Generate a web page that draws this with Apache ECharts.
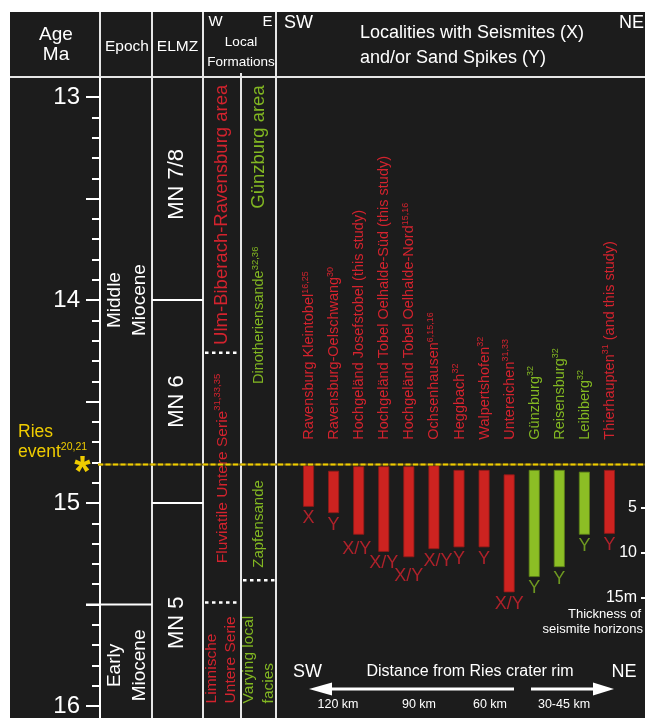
<!DOCTYPE html>
<html>
<head>
<meta charset="utf-8">
<title>Seismites and sand spikes after the Ries event</title>
<script src="https://cdn.jsdelivr.net/npm/echarts@6.0.0/dist/echarts.min.js"></script>
<style>
  html, body { margin: 0; padding: 0; background: #ffffff; }
  #chart { width: 645px; height: 718px; }
</style>
</head>
<body>
<div id="chart"></div>
<script>
// ---------------- data ----------------
// Age scale, Ma
const ageMajor = [13, 14, 15, 16];
const ageHalf = [13.5, 14.5, 15.5];

// Epochs (boundary ages in Ma, top to bottom)
const epochNames = ['Middle\nMiocene', 'Early\nMiocene'];
const epochBase = [15.5];

// European Land Mammal Zones
const elmzNames = ['MN 7/8', 'MN 6', 'MN 5'];
const elmzBase = [14.0, 15.0];

// Local formations, western (Ulm-Biberach-Ravensburg) column
const westUnits = ['Ulm-Biberach-Ravensburg area', 'Fluviatile Untere Serie', 'Limnische\nUntere Serie'];
const westRefs = ['', '31,33,35', ''];
const westBase = [14.26, 15.49];

// Local formations, eastern (Günzburg) column
const eastUnits = ['Günzburg area', 'Dinotheriensande', 'Zapfensande', 'Varying local\nfacies'];
const eastRefs = ['', '32,36', '', ''];
const eastBase = [15.38];

// Ries impact
const riesAge = 14.81;
const riesRefs = '20,21';

// Localities, SW to NE
const localities = [
  'Ravensburg Kleintobel', 'Ravensburg-Oelschwang', 'Hochgeländ Josefstobel (this study)',
  'Hochgeländ Tobel Oelhalde-Süd (this study)', 'Hochgeländ Tobel Oelhalde-Nord', 'Ochsenhausen',
  'Heggbach', 'Walpertshofen', 'Untereichen', 'Günzburg', 'Reisensburg', 'Leibiberg', 'Thierhaupten'
];
const localityRefs = ['16,25', '30', '', '', '15,16', '6,15,16', '32', '32', '31,33', '32', '32', '32', '31'];
const localityNotes = ['', '', '', '', '', '', '', '', '', '', '', '', ' (and this study)'];
const localityArea = ['UBR', 'UBR', 'UBR', 'UBR', 'UBR', 'UBR', 'UBR', 'UBR', 'UBR', 'GZ', 'GZ', 'GZ', 'UBR'];

// Seismite horizons: top and base below the Ries level (m), and feature type
const horizonTop  = [0.3, 0.9, 0.4, 0.4, 0.4, 0.3, 0.8, 0.8, 1.3, 0.8, 0.8, 1.0, 0.8];
const horizonBase = [4.9, 5.6, 8.0, 9.9, 10.5, 9.6, 9.4, 9.4, 14.4, 12.7, 11.6, 8.0, 7.9];
const horizonType = ['X', 'Y', 'X/Y', 'X/Y', 'X/Y', 'X/Y', 'Y', 'Y', 'X/Y', 'Y', 'Y', 'Y', 'Y'];
const thicknessTicks = [5, 10, 15];

// Distance from the Ries crater rim
const distanceLabels = ['120 km', '90 km', '60 km', '30-45 km'];

// ---------------- layout & style ----------------
const FONT = "'Liberation Sans', Arial, Helvetica, sans-serif";
const BG = '#1c1c1c';
const WHITE = '#ffffff';
const LINE = '#e6e6e6';
const RED_TXT = '#d3232e';
const RED_BAR = '#cd2320';
const RED_EDGE = '#8e1a18';
const GREEN_TXT = '#82b722';
const GREEN_BAR = '#8cbe25';
const GREEN_EDGE = '#5b7f17';
const YELLOW = '#efcc00';

const AGE_MIN = 12.906, AGE_MAX = 16.059;
// column edges (px)
const COL = { axis: 100, epoch: 152, elmz: 203, west: 241, east: 276, right: 645 };
// where the rotated column captions sit (Ma) and how they are anchored
const epochLabel = { at: [14.0, 15.8], x: 127, size: 19, lh: 25 };
const elmzLabel = { at: [13.43, 14.5, 15.59], x: 176.5, size: 22, lh: 24 };
const westLabel = { at: [13.58, 14.83, 15.987], x: 221.5, size: [18.5, 15.5, 15.5], lh: 19, anchor: ['center', 'center', 'left'] };
const eastLabel = { at: [13.246, 14.075, 15.103, 15.987], x: 258.5, size: [18.5, 14.5, 15, 15.5], lh: 20.5, anchor: ['center', 'center', 'center', 'left'] };
const labelNudge = [[0, 0], [0, 0], [-2, 3], [0, 0], [0, 7], [4, 0], [0, 0], [0, 0], [0, 0], [0, 0], [0, 0], [0, 0], [0, 0]];
const distanceX = [338, 419, 490, 564];

const areaColor = a => (a === 'GZ' ? GREEN_TXT : RED_TXT);

function textEl(x, y, text, opt) {
  return {
    type: 'text', x: x, y: y, rotation: opt.rotation || 0, silent: true, z: opt.z || 0,
    style: Object.assign({
      text: text, fill: opt.fill || WHITE,
      font: (opt.weight || 'normal') + ' ' + opt.size + 'px ' + FONT,
      fontSize: opt.size, fontFamily: FONT, fontWeight: opt.weight || 'normal',
      align: opt.align || 'center', verticalAlign: opt.valign || 'middle',
      textAlign: opt.align || 'center', textVerticalAlign: opt.valign || 'middle',
      lineHeight: opt.lh
    }, opt.rich ? { rich: opt.rich } : {})
  };
}

function richCaption(name, ref, color, size) {
  if (!ref) return { text: name, rich: null };
  return {
    text: '{m|' + name + '}{s|' + ref + '}',
    rich: {
      m: { fill: color, fontSize: size, fontFamily: FONT, verticalAlign: 'bottom', lineHeight: size + 2 },
      s: { fill: color, fontSize: 9.5, fontFamily: FONT, verticalAlign: 'top', lineHeight: size + 2 }
    }
  };
}

// One stratigraphic column: unit boundaries plus rotated captions
function columnSeries(cfg) {
  return {
    type: 'custom', name: cfg.name, xAxisIndex: 0, yAxisIndex: 0, silent: true, clip: false,
    data: cfg.names.map((n, i) => ({ name: n, value: [0, i < cfg.bases.length ? cfg.bases[i] : AGE_MAX] })),
    renderItem(params, api) {
      const i = params.dataIndex;
      const yOf = a => api.coord([0, a])[1];
      const kids = [];
      if (i < cfg.bases.length) {
        const y = yOf(cfg.bases[i]);
        kids.push({
          type: 'line', shape: { x1: cfg.x0, y1: y, x2: cfg.x1, y2: y },
          style: { stroke: WHITE, lineWidth: cfg.dashed ? 2.5 : 2, lineDash: cfg.dashed ? [3.5, 3.5] : null }
        });
      }
      const size = Array.isArray(cfg.label.size) ? cfg.label.size[i] : cfg.label.size;
      const anchor = cfg.label.anchor ? cfg.label.anchor[i] : 'center';
      const cap = richCaption(cfg.names[i], cfg.refs ? cfg.refs[i] : '', cfg.color, size);
      kids.push(textEl(cfg.label.x, yOf(cfg.label.at[i]), cap.text, {
        rotation: Math.PI / 2, size: size, fill: cfg.color, align: anchor, lh: cfg.label.lh, rich: cap.rich
      }));
      return { type: 'group', children: kids };
    }
  };
}

// Ries event: dashed level across the chart, asterisk and caption
const riesSeries = {
  type: 'custom', name: 'Ries event', xAxisIndex: 0, yAxisIndex: 0, silent: true, clip: false, z: 5,
  data: [[0, riesAge]],
  renderItem(params, api) {
    const y = api.coord([0, riesAge])[1];
    return {
      type: 'group',
      children: [
        { type: 'line', shape: { x1: 98, y1: y, x2: COL.right, y2: y }, style: { stroke: '#6e5f12', lineWidth: 2 } },
        { type: 'line', shape: { x1: 98, y1: y, x2: COL.right, y2: y }, style: { stroke: YELLOW, lineWidth: 2, lineDash: [5, 2.5] } },
        textEl(82.5, y + 9, '*', { size: 42, weight: 'bold', fill: YELLOW }),
        textEl(18, y - 32, 'Ries', { size: 17.5, fill: YELLOW, align: 'left' }),
        textEl(18, y - 13, '{m|event}{s|' + riesRefs + '}', {
          size: 17.5, fill: YELLOW, align: 'left',
          rich: {
            m: { fill: YELLOW, fontSize: 17.5, fontFamily: FONT, verticalAlign: 'bottom', lineHeight: 19 },
            s: { fill: YELLOW, fontSize: 10.5, fontFamily: FONT, verticalAlign: 'top', lineHeight: 19 }
          }
        })
      ]
    };
  }
};

// Minor age ticks every 0.1 Ma between the labelled ones
const ageMinorTicks = [];
for (let k = 130; k <= 160; k++) { if (k % 5 !== 0) ageMinorTicks.push(k / 10); }

const tickStyle = { color: WHITE, width: 2 };

const localityRich = {
  r: { color: RED_TXT, fontSize: 14.5, fontFamily: FONT, verticalAlign: 'bottom', lineHeight: 16 },
  rs: { color: RED_TXT, fontSize: 9, fontFamily: FONT, verticalAlign: 'top', lineHeight: 16 },
  g: { color: GREEN_TXT, fontSize: 14.5, fontFamily: FONT, verticalAlign: 'bottom', lineHeight: 16 },
  gs: { color: GREEN_TXT, fontSize: 9, fontFamily: FONT, verticalAlign: 'top', lineHeight: 16 }
};

const option = {
  backgroundColor: '#ffffff',
  animation: false,
  textStyle: { fontFamily: FONT },
  grid: [
    { left: COL.axis, right: 0, top: 78, bottom: 0, outerBoundsMode: 'none', containLabel: false },
    { left: 296, right: 23, top: 462.7, height: 135, outerBoundsMode: 'none', containLabel: false }
  ],
  xAxis: [
    { gridIndex: 0, type: 'value', min: 0, max: 1, show: false },
    {
      gridIndex: 1, type: 'category', data: localities, position: 'top',
      axisLine: { show: false }, axisTick: { show: false }, splitLine: { show: false },
      axisLabel: {
        interval: 0, rotate: 90, margin: 23,
        formatter: (v, i) => {
          const k = localityArea[i] === 'GZ' ? 'g' : 'r';
          return '{' + k + '|' + localities[i] + '}' +
            (localityRefs[i] ? '{' + k + 's|' + localityRefs[i] + '}' : '') +
            (localityNotes[i] ? '{' + k + '|' + localityNotes[i] + '}' : '');
        },
        rich: localityRich
      }
    }
  ],
  yAxis: [
    {
      gridIndex: 0, type: 'value', inverse: true, min: AGE_MIN, max: AGE_MAX, position: 'left',
      axisLine: { show: true, lineStyle: { color: WHITE, width: 2 } },
      axisTick: { show: true, length: 14, lineStyle: tickStyle, customValues: ageMajor.concat(ageHalf) },
      axisLabel: { show: true, customValues: ageMajor, margin: 20, color: WHITE, fontSize: 24, fontFamily: FONT },
      splitLine: { show: false }
    },
    {
      gridIndex: 0, type: 'value', inverse: true, min: AGE_MIN, max: AGE_MAX, position: 'left',
      axisLine: { show: false },
      axisTick: { show: true, length: 8, lineStyle: tickStyle, customValues: ageMinorTicks },
      axisLabel: { show: false }, splitLine: { show: false }
    },
    {
      gridIndex: 1, type: 'value', inverse: true, min: 0, max: 15, position: 'right', offset: 19,
      axisLine: { show: false },
      axisTick: { show: true, length: 4, inside: false, lineStyle: tickStyle, customValues: thicknessTicks },
      axisLabel: {
        show: true, inside: true, margin: 4, customValues: thicknessTicks, color: WHITE, fontSize: 16, fontFamily: FONT,
        formatter: v => (v === 15 ? '15m' : String(v))
      },
      splitLine: { show: false }
    }
  ],
  series: [
    columnSeries({ name: 'Epoch', names: epochNames, bases: epochBase, x0: 86, x1: COL.epoch, color: WHITE, label: epochLabel }),
    columnSeries({ name: 'ELMZ', names: elmzNames, bases: elmzBase, x0: COL.epoch, x1: COL.elmz, color: WHITE, label: elmzLabel }),
    columnSeries({ name: 'West', names: westUnits, refs: westRefs, bases: westBase, x0: 205, x1: 240, color: RED_TXT, label: westLabel, dashed: true }),
    columnSeries({ name: 'East', names: eastUnits, refs: eastRefs, bases: eastBase, x0: 243, x1: 275, color: GREEN_TXT, label: eastLabel, dashed: true }),
    riesSeries,
    {
      type: 'bar', name: 'offset', xAxisIndex: 1, yAxisIndex: 2, stack: 'horizon', barWidth: 11, silent: true,
      itemStyle: { color: 'rgba(0,0,0,0)' }, data: horizonTop
    },
    {
      type: 'bar', name: 'Seismite horizon', xAxisIndex: 1, yAxisIndex: 2, stack: 'horizon', barWidth: 11, z: 3,
      data: horizonBase.map((b, i) => ({
        value: +(b - horizonTop[i]).toFixed(2),
        itemStyle: {
          color: localityArea[i] === 'GZ' ? GREEN_BAR : RED_BAR,
          borderColor: localityArea[i] === 'GZ' ? GREEN_EDGE : RED_EDGE, borderWidth: 0.8
        }
      }))
    },
    {
      type: 'scatter', name: 'type', xAxisIndex: 1, yAxisIndex: 2, symbol: 'circle', symbolSize: 1, silent: true,
      itemStyle: { color: 'rgba(0,0,0,0)' },
      data: horizonBase.map((b, i) => ({
        value: b,
        label: {
          show: true, position: 'bottom', distance: 2, offset: labelNudge[i],
          formatter: horizonType[i], color: areaColor(localityArea[i]), fontSize: 18, fontFamily: FONT
        }
      }))
    }
  ],
  graphic: [
    { type: 'rect', z: -10, silent: true, shape: { x: 10, y: 12, width: 635, height: 706 }, style: { fill: BG } },
    // header frame
    { type: 'line', silent: true, shape: { x1: 10, y1: 77, x2: 645, y2: 77 }, style: { stroke: LINE, lineWidth: 2 } },
    ...[COL.axis, COL.epoch, COL.elmz, COL.east].map(x => ({
      type: 'line', silent: true, shape: { x1: x, y1: 12, x2: x, y2: 77 }, style: { stroke: LINE, lineWidth: 2 }
    })),
    // column separators
    ...[COL.epoch, COL.elmz, COL.east].map(x => ({
      type: 'line', silent: true, shape: { x1: x, y1: 77, x2: x, y2: 718 }, style: { stroke: LINE, lineWidth: 2 }
    })),
    { type: 'line', silent: true, shape: { x1: COL.west, y1: 73, x2: COL.west, y2: 718 }, style: { stroke: LINE, lineWidth: 2 } },
    // header captions
    textEl(56, 45, 'Age\nMa', { size: 19, lh: 20 }),
    textEl(127, 47, 'Epoch', { size: 15.5 }),
    textEl(177.5, 47, 'ELMZ', { size: 15.5 }),
    textEl(215.5, 22, 'W', { size: 15 }),
    textEl(267.5, 22, 'E', { size: 15 }),
    textEl(241, 42, 'Local', { size: 13.5 }),
    textEl(241, 62, 'Formations', { size: 13.5 }),
    textEl(284, 23, 'SW', { size: 18, align: 'left' }),
    textEl(644, 23, 'NE', { size: 18, align: 'right' }),
    textEl(360, 33, 'Localities with Seismites (X)', { size: 18, align: 'left' }),
    textEl(360, 58, 'and/or Sand Spikes (Y)', { size: 18, align: 'left' }),
    // thickness note
    textEl(641, 614, 'Thickness of', { size: 13, align: 'right' }),
    textEl(643, 629, 'seismite horizons', { size: 13, align: 'right' }),
    // distance arrow
    textEl(293, 672, 'SW', { size: 18, align: 'left' }),
    textEl(470, 672, 'Distance from Ries crater rim', { size: 16 }),
    textEl(624, 672, 'NE', { size: 18 }),
    { type: 'line', silent: true, shape: { x1: 328, y1: 689, x2: 514, y2: 689 }, style: { stroke: WHITE, lineWidth: 3 } },
    { type: 'polygon', silent: true, shape: { points: [[309, 689], [332, 682.5], [332, 695.5]] }, style: { fill: WHITE } },
    { type: 'line', silent: true, shape: { x1: 531, y1: 689, x2: 598, y2: 689 }, style: { stroke: WHITE, lineWidth: 3 } },
    { type: 'polygon', silent: true, shape: { points: [[614, 689], [593, 682.5], [593, 695.5]] }, style: { fill: WHITE } },
    ...distanceLabels.map((t, i) => textEl(distanceX[i], 705, t, { size: 12.5 }))
  ]
};

const chart = echarts.init(document.getElementById('chart'), null, { renderer: 'canvas' });
chart.setOption(option);
</script>
</body>
</html>
